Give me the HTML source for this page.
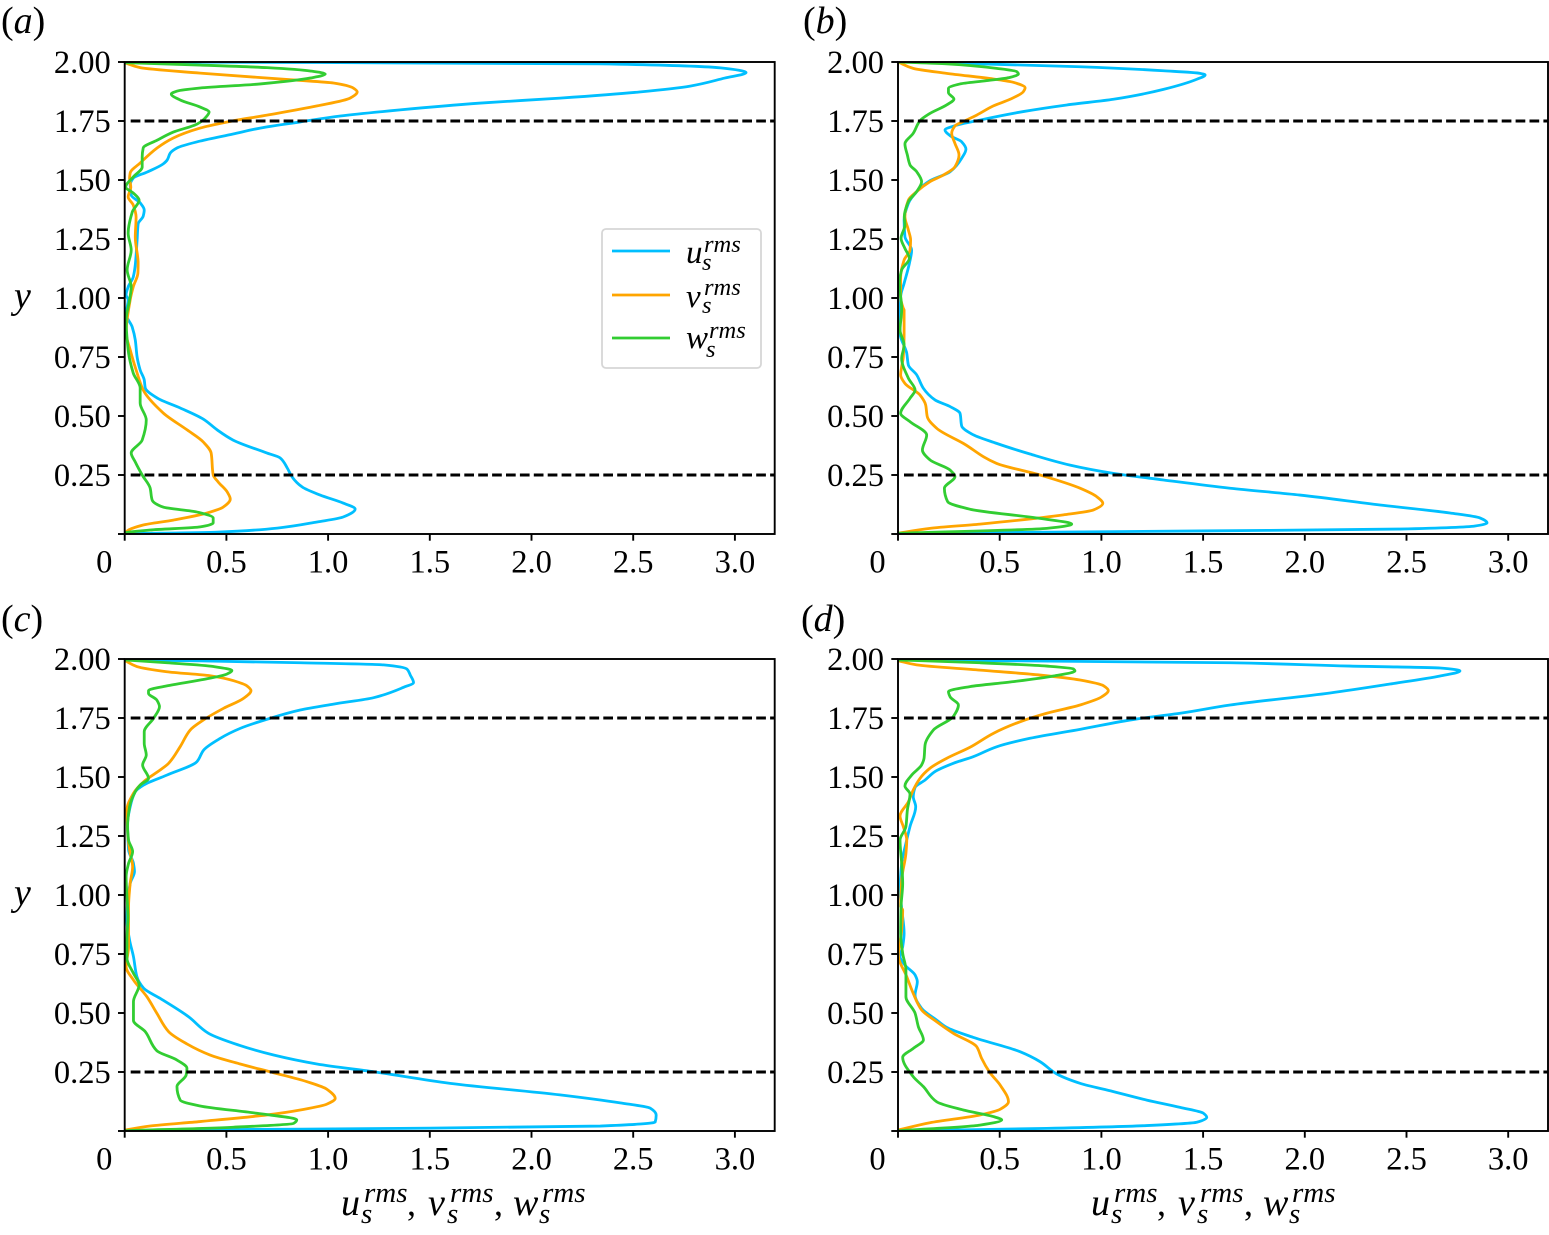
<!DOCTYPE html>
<html lang="en">
<head>
<meta charset="utf-8">
<title>RMS velocity profiles</title>
<style>
html,body{margin:0;padding:0;background:#fff;}
svg{display:block;}
text{font-family:"Liberation Serif",serif;fill:#000;}
.it{font-style:italic;}
</style>
</head>
<body>
<svg id="chart" xmlns="http://www.w3.org/2000/svg" width="1549" height="1235" viewBox="0 0 1549 1235">
  <rect x="0" y="0" width="1549" height="1235" fill="#fff"/>
  <g id="panels"></g>

  <g font-size="38">
    <text x="1" y="33">(<tspan class="it">a</tspan>)</text>
    <text x="803" y="33">(<tspan class="it">b</tspan>)</text>
    <text x="1" y="631">(<tspan class="it">c</tspan>)</text>
    <text x="801" y="631">(<tspan class="it">d</tspan>)</text>
  </g>

  <text class="it" x="14" y="308" font-size="38">y</text>
  <text class="it" x="14" y="905" font-size="38">y</text>

  <g>
    <rect x="602" y="229" width="159" height="139" rx="4" ry="4" fill="#fff" stroke="#d6d6d6" stroke-width="1.8"/>
    <line x1="612" x2="670" y1="251" y2="251" stroke="#00BFFF" stroke-width="2.8"/>
    <line x1="612" x2="670" y1="295" y2="295" stroke="#FFA500" stroke-width="2.8"/>
    <line x1="612" x2="670" y1="338" y2="338" stroke="#32CD32" stroke-width="2.8"/>
    <g class="it">
      <text class="it" x="686" y="263" font-size="33">u</text>
      <text class="it" x="704" y="252" font-size="24.5">rms</text>
      <text class="it" x="702" y="270" font-size="24.5">s</text>
    </g>
    <g>
      <text class="it" x="686" y="307" font-size="33">v</text>
      <text class="it" x="704" y="295" font-size="24.5">rms</text>
      <text class="it" x="702" y="313" font-size="24.5">s</text>
    </g>
    <g>
      <text class="it" x="686" y="348" font-size="33">w</text>
      <text class="it" x="709" y="338" font-size="24.5">rms</text>
      <text class="it" x="706" y="357" font-size="24.5">s</text>
    </g>
  </g>

  <g>
    <text class="it" x="341" y="1215" font-size="38">u</text>
    <text class="it" x="364" y="1202" font-size="29">rms</text>
    <text class="it" x="361" y="1223" font-size="29">s</text>
    <text x="407" y="1215" font-size="36">,</text>
    <text class="it" x="428" y="1215" font-size="38">v</text>
    <text class="it" x="450" y="1202" font-size="29">rms</text>
    <text class="it" x="447" y="1223" font-size="29">s</text>
    <text x="494" y="1215" font-size="36">,</text>
    <text class="it" x="513" y="1215" font-size="38">w</text>
    <text class="it" x="542" y="1202" font-size="29">rms</text>
    <text class="it" x="539" y="1223" font-size="29">s</text>
  </g>
  <g transform="translate(750,0)">
    <text class="it" x="341" y="1215" font-size="38">u</text>
    <text class="it" x="364" y="1202" font-size="29">rms</text>
    <text class="it" x="361" y="1223" font-size="29">s</text>
    <text x="407" y="1215" font-size="36">,</text>
    <text class="it" x="428" y="1215" font-size="38">v</text>
    <text class="it" x="450" y="1202" font-size="29">rms</text>
    <text class="it" x="447" y="1223" font-size="29">s</text>
    <text x="494" y="1215" font-size="36">,</text>
    <text class="it" x="513" y="1215" font-size="38">w</text>
    <text class="it" x="542" y="1202" font-size="29">rms</text>
    <text class="it" x="539" y="1223" font-size="29">s</text>
  </g>
</svg>

<script>
// Axis ticks
const xTicks = [0, 0.5, 1, 1.5, 2, 2.5, 3];
const xTickLabels = ["0", "0.5", "1.0", "1.5", "2.0", "2.5", "3.0"];
const yTicks = [0.25, 0.5, 0.75, 1, 1.25, 1.5, 1.75, 2];
const yTickLabels = ["0.25", "0.50", "0.75", "1.00", "1.25", "1.50", "1.75", "2.00"];
const dashedLevels = [0.25, 1.75];

// Panel (a)
const aUx = [0,.863,2.338,2.93,3.055,2.95,2.78,2.53,2.14,1.75,1.354,1.06,.863,.666,.533,.371,.258,.224,.209,.189,.111,.042,.027,.032,.076,.096,.091,.066,.061,.052,.042,.017,.007,.017,.007,.037,.052,.061,.076,.096,.101,.16,.273,.386,.455,.533,.70,.765,.799,.823,.873,.961,1.074,1.133,1.074,.946,.75,.455,0];
const aUy = [2,1.998,1.992,1.975,1.955,1.932,1.898,1.873,1.847,1.826,1.797,1.771,1.746,1.72,1.695,1.665,1.636,1.614,1.585,1.568,1.534,1.508,1.479,1.436,1.403,1.373,1.347,1.314,1.246,1.14,1.089,1.047,1.013,.992,.932,.877,.822,.75,.695,.653,.619,.576,.534,.487,.441,.398,.343,.322,.28,.242,.199,.165,.131,.106,.072,.051,.025,.008,.001];
const aVx = [0,.076,.371,.829,1.026,1.123,1.143,1.108,.946,.70,.504,.371,.239,.16,.076,.027,.024,.03,.017,.042,.056,.052,.066,.065,.042,.027,.007,.027,.061,.091,.189,.307,.386,.425,.435,.46,.504,.519,.484,.405,.239,.091,.012,0];
const aVy = [1.997,1.976,1.953,1.924,1.911,1.89,1.873,1.847,1.814,1.775,1.746,1.72,1.678,1.636,1.572,1.53,1.508,1.47,1.428,1.394,1.343,1.258,1.148,1.106,1.047,.992,.852,.78,.682,.61,.513,.441,.39,.343,.25,.22,.178,.148,.114,.089,.059,.038,.013,.001];
const aWx = [0,.371,.70,.912,.986,.912,.666,.371,.258,.229,.273,.371,.415,.396,.356,.239,.16,.091,.086,.086,.042,.005,.042,.071,.037,.017,.032,.012,.032,.024,.007,.017,.042,.076,.076,.106,.086,.032,.052,.086,.125,.135,.189,.356,.435,.435,.371,.125,0];
const aWy = [1.997,1.987,1.976,1.962,1.949,1.932,1.907,1.89,1.877,1.864,1.839,1.809,1.788,1.763,1.737,1.703,1.669,1.636,1.597,1.555,1.513,1.47,1.445,1.415,1.364,1.275,1.203,1.119,1.047,.992,.907,.78,.682,.619,.555,.483,.398,.343,.305,.25,.195,.144,.114,.093,.068,.047,.03,.017,.006];

// Panel (b)
const bUx = [0,.403,.895,1.305,1.485,1.51,1.469,1.305,1.059,.83,.616,.403,.28,.231,.256,.313,.334,.313,.256,.157,.1,.051,.03,.034,.067,.056,.03,.013,.01,.043,.051,.092,.125,.182,.256,.305,.313,.362,.485,.649,.846,1.059,1.305,1.633,1.976,2.37,2.714,2.861,2.896,2.837,2.468,1.485,.5,0];
const bUy = [2,1.992,1.98,1.963,1.952,1.945,1.927,1.884,1.842,1.818,1.79,1.754,1.73,1.712,1.688,1.662,1.631,1.592,1.535,1.497,1.458,1.401,1.331,1.26,1.203,1.147,1.062,1.006,.85,.766,.716,.674,.617,.568,.54,.511,.458,.424,.384,.339,.292,.257,.229,.194,.165,.123,.089,.068,.047,.034,.021,.013,.006,.002];
const bVx = [0,.075,.239,.469,.567,.625,.616,.551,.469,.387,.33,.28,.264,.28,.3,.28,.223,.157,.092,.051,.034,.051,.062,.059,.03,.013,.013,.026,.03,.03,.026,.018,.013,.034,.108,.136,.144,.19,.321,.485,.698,.895,.977,1.007,.961,.813,.403,.157,0];
const bVy = [2,1.973,1.952,1.928,1.914,1.891,1.874,1.842,1.814,1.775,1.751,1.729,1.698,1.655,1.606,1.556,1.521,1.493,1.451,1.415,1.345,1.288,1.246,1.203,1.161,1.09,1.006,.956,.949,.85,.751,.709,.674,.638,.589,.547,.497,.448,.384,.299,.25,.194,.158,.13,.102,.081,.042,.024,.003];
const bWx = [0,.239,.485,.584,.592,.551,.436,.305,.248,.248,.275,.239,.157,.108,.075,.034,.046,.059,.092,.116,.092,.051,.031,.034,.015,.034,.056,.018,.007,.018,.018,.01,.03,.018,.051,.084,.059,.013,.059,.141,.12,.157,.256,.28,.228,.244,.354,.698,.854,.731,0];
const bWy = [2,1.992,1.973,1.959,1.949,1.935,1.921,1.907,1.888,1.87,1.843,1.818,1.782,1.751,1.698,1.653,1.606,1.564,1.535,1.493,1.451,1.408,1.345,1.309,1.253,1.21,1.168,1.119,1.062,.956,.949,.864,.801,.744,.66,.61,.575,.511,.476,.419,.356,.314,.271,.243,.194,.137,.105,.066,.042,.024,.003];

// Panel (c)
const cUx = [0,.371,.863,1.273,1.388,1.404,1.42,1.371,1.224,1.027,.863,.716,.568,.47,.388,.355,.207,.093,.052,.027,.014,.019,.043,.048,.027,.014,.011,.024,.043,.06,.093,.174,.314,.412,.568,.732,.945,1.24,1.6,2.14,2.436,2.583,2.613,2.608,2.338,1.354,.371,0];
const cUy = [1.996,1.992,1.984,1.975,1.957,1.932,1.9,1.88,1.836,1.809,1.784,1.749,1.706,1.664,1.614,1.565,1.508,1.466,1.438,1.374,1.304,1.191,1.134,1.099,1.049,.965,.894,.809,.739,.654,.605,.562,.484,.414,.362,.322,.284,.249,.202,.153,.119,.097,.068,.038,.021,.011,.005,.001];
const cVx = [0,.06,.207,.42,.535,.601,.621,.584,.486,.388,.322,.273,.216,.175,.093,.043,.011,.016,.027,.039,.027,.019,.019,.019,.007,.043,.109,.158,.216,.306,.42,.568,.732,.896,.994,1.035,.994,.863,.699,.371,.125,0];
const cVy = [1.994,1.968,1.946,1.929,1.908,1.886,1.866,1.833,1.791,1.742,1.699,1.629,1.558,1.53,1.48,1.431,1.36,1.247,1.177,1.12,1.049,.951,.88,.781,.696,.64,.569,.499,.421,.369,.322,.284,.247,.209,.177,.138,.114,.089,.068,.04,.021,.004];
const cWx = [0,.207,.436,.527,.502,.371,.207,.117,.117,.158,.171,.142,.096,.096,.106,.088,.117,.076,.052,.024,.014,.019,.039,.019,.007,.014,.016,.011,.011,.043,.071,.043,.043,.101,.158,.256,.306,.302,.257,.273,.371,.65,.846,.83,.533,0];
const cWy = [1.996,1.984,1.968,1.951,1.936,1.911,1.886,1.866,1.855,1.826,1.798,1.749,1.692,1.643,1.593,1.551,1.494,1.466,1.438,1.374,1.29,1.233,1.184,1.134,1.078,.951,.908,.809,.732,.668,.619,.548,.468,.421,.34,.301,.266,.237,.188,.131,.106,.075,.047,.032,.016,.001];

// Panel (d)
const dUx = [0,1.633,2.222,2.665,2.763,2.665,2.419,2.124,1.633,1.387,1.174,.895,.649,.485,.37,.272,.182,.133,.084,.075,.087,.059,.039,.018,.01,.018,.03,.023,.01,.034,.084,.095,.084,.116,.19,.239,.369,.6,.698,.78,.895,1.059,1.223,1.387,1.502,1.518,1.469,1.223,.731,.239,0];
const dUy = [1.996,1.984,1.97,1.962,1.949,1.928,1.894,1.856,1.805,1.77,1.746,1.702,1.664,1.628,1.586,1.558,1.523,1.487,1.456,1.417,1.374,1.29,1.219,1.134,1.021,.944,.838,.781,.739,.703,.661,.633,.576,.52,.47,.439,.397,.336,.294,.242,.202,.167,.131,.1,.075,.058,.037,.023,.011,.004,.001];
const dVx = [0,.092,.403,.698,.895,1.01,1.034,1.002,.895,.731,.6,.469,.354,.239,.157,.108,.075,.051,.01,.026,.043,.039,.018,.013,.023,.018,.002,.043,.075,.116,.19,.272,.387,.411,.452,.502,.543,.502,.403,.157,0];
const dVy = [1.993,1.975,1.953,1.932,1.911,1.887,1.866,1.84,1.805,1.77,1.734,1.685,1.626,1.579,1.537,1.494,1.445,1.395,1.335,1.29,1.233,1.177,1.064,.951,.936,.852,.746,.654,.583,.513,.463,.414,.357,.308,.247,.195,.124,.092,.068,.035,.004];
const dWx = [0,.403,.731,.862,.87,.764,.567,.354,.248,.256,.297,.272,.174,.133,.128,.116,.067,.034,.059,.046,.039,.01,.018,.023,.015,.013,.023,.039,.039,.084,.1,.125,.075,.023,.075,.125,.19,.321,.469,.51,.403,0];
const dWy = [1.996,1.984,1.97,1.958,1.949,1.928,1.904,1.883,1.862,1.84,1.805,1.756,1.699,1.636,1.579,1.551,1.508,1.462,1.428,1.36,1.29,1.233,1.134,1.049,.951,.838,.753,.682,.569,.499,.442,.386,.35,.312,.23,.188,.124,.089,.061,.047,.025,.001];

const SVGNS = "http://www.w3.org/2000/svg";
const root = document.getElementById("panels");
const BLUE = "#00BFFF", ORANGE = "#FFA500", GREEN = "#32CD32";

const panels = [
  { id: "a", left: 124.7, top: 62,  u: [aUx, aUy], v: [aVx, aVy], w: [aWx, aWy] },
  { id: "b", left: 898,   top: 62,  u: [bUx, bUy], v: [bVx, bVy], w: [bWx, bWy] },
  { id: "c", left: 124.7, top: 659, u: [cUx, cUy], v: [cVx, cVy], w: [cWx, cWy] },
  { id: "d", left: 898,   top: 659, u: [dUx, dUy], v: [dVx, dVy], w: [dWx, dWy] }
];

function make(tag, attrs, parent) {
  const el = document.createElementNS(SVGNS, tag);
  for (const k in attrs) el.setAttribute(k, attrs[k]);
  parent.appendChild(el);
  return el;
}

// Each profile is single-valued in y, so interpolate x as a monotone
// cubic (PCHIP) of the vertical coordinate: no overshoot or bulges at peaks.
function smoothPath(xs, ys, sx, sy) {
  const px = xs.map(v => sx(v));
  const py = ys.map(v => sy(v));
  const n = px.length;
  const h = [], s = [];
  for (let i = 0; i < n - 1; i++) {
    h[i] = Math.max(py[i + 1] - py[i], 1e-6);
    s[i] = (px[i + 1] - px[i]) / h[i];
  }
  const m = new Array(n).fill(0);
  m[0] = s[0];
  m[n - 1] = s[n - 2];
  for (let i = 1; i < n - 1; i++) {
    if (s[i - 1] * s[i] > 0) {
      const w1 = 2 * h[i] + h[i - 1];
      const w2 = h[i] + 2 * h[i - 1];
      m[i] = (w1 + w2) / (w1 / s[i - 1] + w2 / s[i]);
    }
  }
  let d = "M" + px[0].toFixed(2) + "," + py[0].toFixed(2);
  for (let i = 0; i < n - 1; i++) {
    const c1x = px[i] + m[i] * h[i] / 3;
    const c1y = py[i] + h[i] / 3;
    const c2x = px[i + 1] - m[i + 1] * h[i] / 3;
    const c2y = py[i + 1] - h[i] / 3;
    d += "C" + c1x.toFixed(2) + "," + c1y.toFixed(2) + " " + c2x.toFixed(2) + "," + c2y.toFixed(2) + " " + px[i + 1].toFixed(2) + "," + py[i + 1].toFixed(2);
  }
  return d;
}

panels.forEach(function (p) {
  const W = 650, H = 472, xScale = 203.4, yScale = 236;
  const sx = v => p.left + v * xScale;
  const sy = v => p.top + H - v * yScale;

  const g = make("g", {}, root);
  
  

  const clip = make("clipPath", { id: "clip-" + p.id }, g);
  make("rect", { x: p.left, y: p.top, width: W, height: H }, clip);

  const series = [
    { key: "u", color: BLUE, data: p.u },
    { key: "v", color: ORANGE, data: p.v },
    { key: "w", color: GREEN, data: p.w }
  ];
  series.forEach(function (s) {
    const path = make("path", {
      d: smoothPath(s.data[0], s.data[1], sx, sy),
      fill: "none",
      stroke: s.color,
      "stroke-width": 2.8,
      "stroke-linejoin": "round",
      "clip-path": "url(#clip-" + p.id + ")"
    }, g);
    
    
  });

  dashedLevels.forEach(function (lv) {
    const dash = make("line", {
      x1: p.left + 6, x2: p.left + W, y1: sy(lv), y2: sy(lv),
      stroke: "#000", "stroke-width": 3, "stroke-dasharray": "9.7 4.2"
    }, g);
    
    
  });

  const frame = make("rect", {
    x: p.left, y: p.top, width: W, height: H,
    fill: "none", stroke: "#000", "stroke-width": 1.9
  }, g);
  
  

  xTicks.forEach(function (t, i) {
    const tick = make("line", {
      x1: sx(t), x2: sx(t), y1: p.top + H, y2: p.top + H + 6.7,
      stroke: "#000", "stroke-width": 1.9
    }, g);
    
    
    const label = make("text", {
      x: t === 0 ? sx(t) - 20.5 : sx(t),
      y: p.top + H + 38.5,
      "font-size": 32.5,
      "text-anchor": "middle"
    }, g);
    label.textContent = xTickLabels[i];
    
    
  });

  const zeroTick = make("line", {
    x1: p.left - 6.7, x2: p.left, y1: sy(0), y2: sy(0),
    stroke: "#000", "stroke-width": 1.9
  }, g);
  
  

  yTicks.forEach(function (t, i) {
    const tick = make("line", {
      x1: p.left - 6.7, x2: p.left, y1: sy(t), y2: sy(t),
      stroke: "#000", "stroke-width": 1.9
    }, g);
    
    
    const label = make("text", {
      x: p.left - 14,
      y: sy(t) + 11,
      "font-size": 32.5,
      "text-anchor": "end"
    }, g);
    label.textContent = yTickLabels[i];
    
    
  });
});
</script>
</body>
</html>
